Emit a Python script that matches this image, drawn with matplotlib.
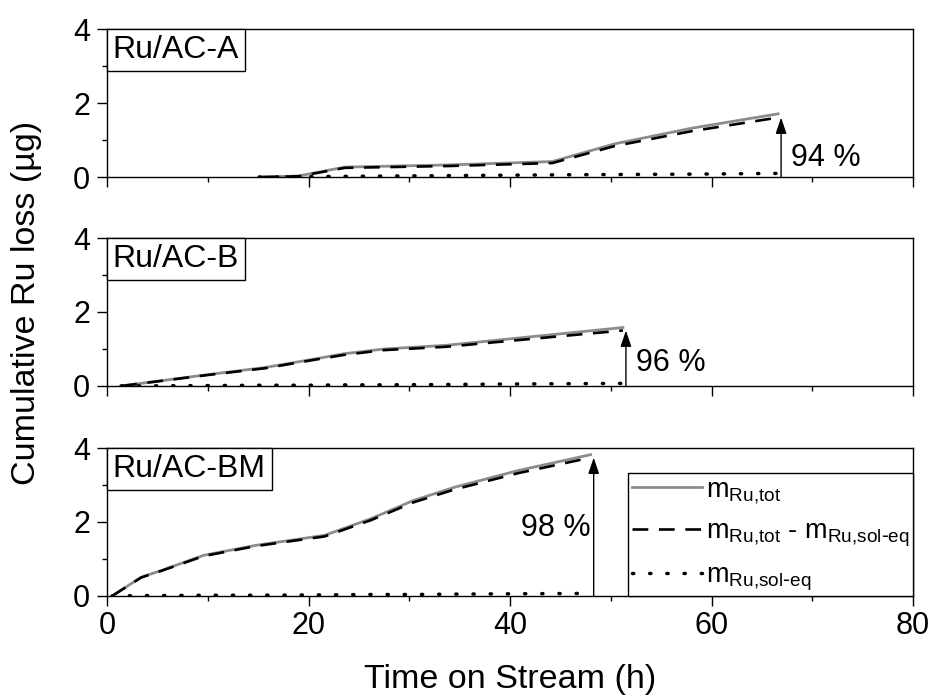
import matplotlib
matplotlib.use("Agg")
import matplotlib.pyplot as plt
from matplotlib.offsetbox import AnchoredText
from matplotlib.ticker import MultipleLocator

plt.rcParams['font.family'] = ['Liberation Sans', 'DejaVu Sans']
plt.rcParams['mathtext.default'] = 'regular'

# Ru/AC-A
t_a = [15.1, 19.0, 23.6, 34.0, 44.2, 50.4, 58.0, 66.6]
tot_a = [0.0, 0.03, 0.27, 0.33, 0.42, 0.90, 1.32, 1.71]
diff_a = [0.0, 0.02, 0.25, 0.30, 0.38, 0.84, 1.24, 1.61]
soleq_a = [0.0, 0.01, 0.02, 0.04, 0.06, 0.07, 0.08, 0.10]

# Ru/AC-B
t_b = [1.4, 9.8, 15.7, 20.4, 23.5, 27.5, 33.7, 38.4, 51.2]
tot_b = [0.0, 0.30, 0.50, 0.72, 0.87, 1.00, 1.10, 1.23, 1.58]
diff_b = [0.0, 0.29, 0.48, 0.70, 0.84, 0.97, 1.06, 1.18, 1.50]
soleq_b = [0.0, 0.01, 0.02, 0.02, 0.03, 0.03, 0.04, 0.05, 0.07]

# Ru/AC-BM
t_c = [0.5, 3.4, 5.4, 9.6, 14.8, 21.6, 26.2, 30.4, 34.5, 40.8, 48.0]
tot_c = [0.0, 0.51, 0.69, 1.10, 1.37, 1.64, 2.09, 2.58, 2.94, 3.39, 3.82]
diff_c = [0.0, 0.50, 0.68, 1.08, 1.35, 1.61, 2.05, 2.53, 2.88, 3.32, 3.74]
soleq_c = [0.0, 0.01, 0.01, 0.02, 0.02, 0.03, 0.04, 0.04, 0.05, 0.06, 0.07]

names = ["Ru/AC-A", "Ru/AC-B", "Ru/AC-BM"]
percent = ["94 %", "96 %", "98 %"]
panels = [(t_a, tot_a, diff_a, soleq_a),
          (t_b, tot_b, diff_b, soleq_b),
          (t_c, tot_c, diff_c, soleq_c)]

fig = plt.figure(figsize=(9.34, 7.0), dpi=100)
bottoms = [0.747, 0.4486, 0.1486]
axes = [fig.add_axes([0.1146, b, 0.863, 0.2114]) for b in bottoms]

for i, ax in enumerate(axes):
    t, tot, diff, soleq = panels[i]
    ax.plot(t, tot, color="#8c8c8c", lw=2.0, label=r"m$_{Ru{,}tot}$")
    ax.plot(t, diff, color="black", lw=1.9, linestyle=(0, (6.0, 4.0)),
            label=r"m$_{Ru{,}tot}$ - m$_{Ru{,}sol\text{-}eq}$")
    ax.plot(t, soleq, color="black", lw=2.5, linestyle=(0, (0.35, 4.6)),
            dash_capstyle="round", label=r"m$_{Ru{,}sol\text{-}eq}$")

    # arrow from baseline up to the end of the dashed curve
    xa = t[-1] + 0.3
    ax.annotate("", xy=(xa, diff[-1]), xytext=(xa, 0),
                arrowprops=dict(arrowstyle="-|>,head_length=0.65,head_width=0.22",
                                color="black", lw=1.0, mutation_scale=15,
                                shrinkA=0, shrinkB=0))
    if i == 2:
        ax.text(xa - 0.3, 1.85, percent[i], ha="right", va="center", fontsize=22)
    else:
        ax.text(xa + 1.0, [0.52, 0.62][i], percent[i], ha="left", va="center", fontsize=22)

    at = AnchoredText(names[i], loc="upper left", prop=dict(size=23),
                      pad=0.18, borderpad=0.0, frameon=True)
    at.patch.set_boxstyle("square,pad=0")
    at.patch.set_edgecolor("black")
    at.patch.set_linewidth(1.0)
    ax.add_artist(at)

    ax.set_xlim(0, 80)
    ax.set_ylim(0, 4)
    ax.xaxis.set_major_locator(MultipleLocator(20))
    ax.xaxis.set_minor_locator(MultipleLocator(10))
    ax.yaxis.set_major_locator(MultipleLocator(2))
    ax.yaxis.set_minor_locator(MultipleLocator(1))
    ax.tick_params(which="major", direction="out", length=7, width=1.0, labelsize=22)
    ax.tick_params(axis="y", which="major", pad=5)
    ax.tick_params(which="minor", direction="out", length=3.5, width=1.0)
    for s in ax.spines.values():
        s.set_linewidth(1.0)
    if i < 2:
        ax.tick_params(axis="x", labelbottom=False)

leg = axes[2].legend(loc="lower right", bbox_to_anchor=(1.0, 0.0), borderaxespad=0.0,
                     fontsize=19.5, frameon=True, fancybox=False, edgecolor="black",
                     handlelength=2.6, handletextpad=0.15, labelspacing=0.48,
                     borderpad=0.12)
leg.get_frame().set_linewidth(1.0)
leg.get_frame().set_alpha(1)

fig.text(0.028, 0.567, "Cumulative Ru loss (µg)", rotation=90, ha="center", va="center",
         fontsize=24.5)
fig.text(0.546, 0.029, "Time on Stream (h)", ha="center", va="center", fontsize=24.5)

fig.savefig("out.png", dpi=100)
